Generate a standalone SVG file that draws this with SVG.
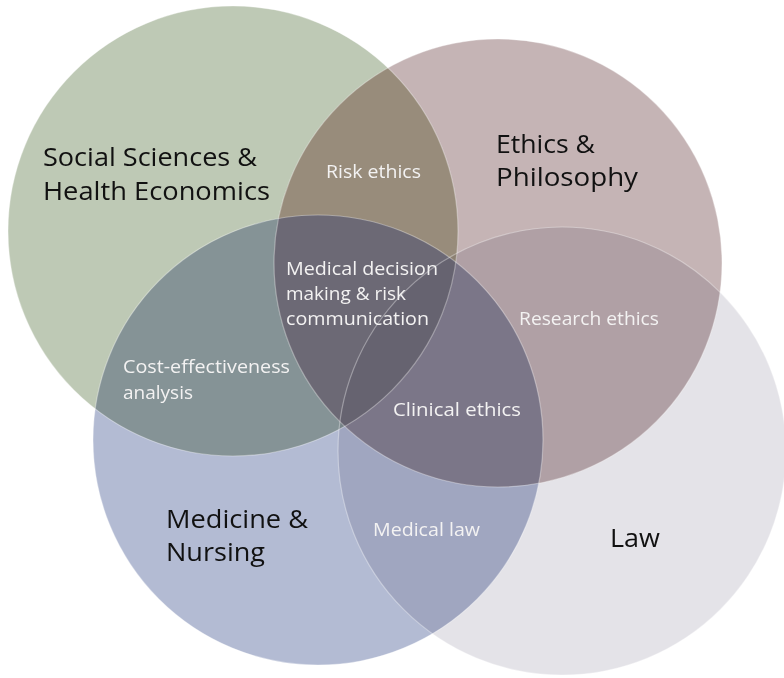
<svg xmlns="http://www.w3.org/2000/svg" width="784" height="678" viewBox="0 0 784 678">
<style>
.c{mix-blend-mode:multiply}
.rim{fill:none;stroke:#ffffff;stroke-opacity:0.35;stroke-width:1.2}
.t{font-family:"Open Sans","Noto Sans","Liberation Sans",sans-serif;font-size:25px;fill:#111111}
.w{font-family:"Open Sans","Noto Sans","Liberation Sans",sans-serif;font-size:17.5px;fill:#f3f2f2}
</style>
<defs>
<clipPath id="clipG"><circle cx="233" cy="231" r="225"/></clipPath>
<clipPath id="clipM"><circle cx="318" cy="440" r="225"/></clipPath>
</defs>
<rect width="784" height="678" fill="#ffffff"/>
<g id="social-sciences">
<circle class="c" cx="233" cy="231" r="225" fill="#bec9b5"/>
<text class="t" x="43" y="166" textLength="214" lengthAdjust="spacingAndGlyphs">Social Sciences &amp;</text>
<text class="t" x="43" y="200" textLength="227" lengthAdjust="spacingAndGlyphs">Health Economics</text>
</g>
<g id="ethics">
<circle class="c" cx="498" cy="263" r="224" fill="#c5b4b5"/>
<text class="t" x="496" y="153" textLength="99" lengthAdjust="spacingAndGlyphs">Ethics &amp;</text>
<text class="t" x="496" y="186" textLength="142" lengthAdjust="spacingAndGlyphs">Philosophy</text>
</g>
<g id="medicine">
<circle class="c" cx="318" cy="440" r="225" fill="#b3bbd3"/>
<text class="t" x="166" y="528" textLength="142" lengthAdjust="spacingAndGlyphs">Medicine &amp;</text>
<text class="t" x="166" y="561" textLength="99" lengthAdjust="spacingAndGlyphs">Nursing</text>
</g>
<g id="law">
<circle class="c" cx="562" cy="451" r="224" fill="#e4e3e8"/>
<text class="t" x="610" y="547" textLength="50" lengthAdjust="spacingAndGlyphs">Law</text>
</g>
<g id="overlap-tints">
<g clip-path="url(#clipG)"><circle cx="498" cy="263" r="224" fill="#a7866d" fill-opacity="0.25"/></g>
<g clip-path="url(#clipG)"><g clip-path="url(#clipM)"><circle cx="498" cy="263" r="224" fill="#52588d" fill-opacity="0.3"/></g></g>
</g>
<g id="rims">
<circle class="rim" cx="233" cy="231" r="225"/>
<circle class="rim" cx="498" cy="263" r="224"/>
<circle class="rim" cx="318" cy="440" r="225"/>
<circle class="rim" cx="562" cy="451" r="224"/>
</g>
<g id="overlap-labels">
<text class="w" x="326" y="178" textLength="95" lengthAdjust="spacingAndGlyphs">Risk ethics</text>
<text class="w" x="286" y="275" textLength="152" lengthAdjust="spacingAndGlyphs">Medical decision</text>
<text class="w" x="286" y="300" textLength="120" lengthAdjust="spacingAndGlyphs">making &amp; risk</text>
<text class="w" x="286" y="325" textLength="143" lengthAdjust="spacingAndGlyphs">communication</text>
<text class="w" x="519" y="325" textLength="140" lengthAdjust="spacingAndGlyphs">Research ethics</text>
<text class="w" x="123" y="373" textLength="167" lengthAdjust="spacingAndGlyphs">Cost-effectiveness</text>
<text class="w" x="123" y="399" textLength="70" lengthAdjust="spacingAndGlyphs">analysis</text>
<text class="w" x="393" y="416" textLength="128" lengthAdjust="spacingAndGlyphs">Clinical ethics</text>
<text class="w" x="373" y="536" textLength="107" lengthAdjust="spacingAndGlyphs">Medical law</text>
</g>
</svg>
